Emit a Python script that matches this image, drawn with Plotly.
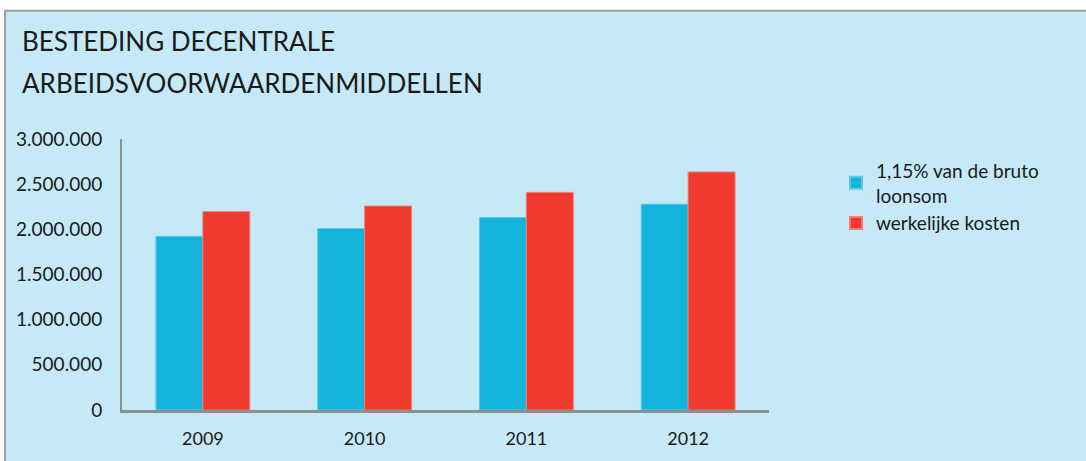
import plotly.graph_objects as go

# Data
years = ["2009", "2010", "2011", "2012"]
bruto_loonsom = [1923000, 2009000, 2131000, 2279000]
werkelijke_kosten = [2196000, 2258000, 2409000, 2635000]
series_names = ["1,15% van de bruto<br>loonsom", "werkelijke kosten"]
y_ticks = [0, 500000, 1000000, 1500000, 2000000, 2500000, 3000000]
title_lines = ["BESTEDING DECENTRALE", "ARBEIDSVOORWAARDENMIDDELLEN"]

BG = "#c6e9f8"
BLUE = "#13b4dc"
RED = "#ef3a2d"
AXIS = "#8c8f92"
TEXT = "#1a1a1a"
FONT = "Lato"

W, H = 1086, 461
L, R, T, B = 122, 317, 139, 43
pw, ph = W - L - R, H - T - B


def px_x(px):
    return (px - L) / pw


def px_y(py):
    return (H - B - py) / ph


fig = go.Figure()
fig.add_trace(go.Bar(
    x=years, y=bruto_loonsom, name=series_names[0],
    marker=dict(color=BLUE, line=dict(color="#5ccbe8", width=1)),
))
fig.add_trace(go.Bar(
    x=years, y=werkelijke_kosten, name=series_names[1],
    marker=dict(color=RED, line=dict(color="#f07c74", width=1)),
))

shapes = [
    # white strip above and left of the panel
    dict(type="rect", xref="paper", yref="paper", x0=px_x(-10), x1=px_x(W + 10),
         y0=px_y(6), y1=px_y(-10), fillcolor="white", line=dict(width=0), layer="below"),
    dict(type="rect", xref="paper", yref="paper", x0=px_x(-10), x1=px_x(4),
         y0=px_y(H + 10), y1=px_y(-10), fillcolor="white", line=dict(width=0), layer="below"),
    # panel border (top and left)
    dict(type="line", xref="paper", yref="paper", x0=px_x(5), x1=px_x(W + 10),
         y0=px_y(7), y1=px_y(7), line=dict(color="#a0a2a4", width=2)),
    dict(type="line", xref="paper", yref="paper", x0=px_x(5), x1=px_x(5),
         y0=px_y(6), y1=px_y(H + 10), line=dict(color="#a0a2a4", width=2)),
]

annotations = [
    dict(text=title_lines[0], xref="paper", yref="paper", x=px_x(20), y=px_y(38),
         xanchor="left", yanchor="middle", showarrow=False,
         font=dict(family=FONT, size=26, color=TEXT)),
    dict(text=title_lines[1], xref="paper", yref="paper", x=px_x(20), y=px_y(81),
         xanchor="left", yanchor="middle", showarrow=False,
         font=dict(family=FONT, size=26, color=TEXT)),
]

fig.update_layout(
    width=W, height=H,
    margin=dict(l=L, r=R, t=T, b=B, pad=0),
    paper_bgcolor=BG, plot_bgcolor=BG,
    separators=",.",
    barmode="group", bargap=0.42, bargroupgap=0,
    font=dict(family=FONT, size=18, color=TEXT),
    shapes=shapes, annotations=annotations,
    showlegend=True,
    legend=dict(x=px_x(836), y=px_y(152), xanchor="left", yanchor="top",
                bgcolor="rgba(0,0,0,0)", font=dict(family=FONT, size=19, color=TEXT),
                tracegroupgap=0, itemsizing="constant"),
    xaxis=dict(showline=True, linecolor=AXIS, linewidth=3, showgrid=False, ticks="",
               ticklabelstandoff=10, tickfont=dict(size=18)),
    yaxis=dict(range=[0, 3000000], tickvals=y_ticks, tickformat=",d",
               showline=True, linecolor=AXIS, linewidth=2, showgrid=False, zeroline=False,
               ticks="", ticklabelstandoff=14, tickfont=dict(size=19)),
)

fig.write_html("out.html")
